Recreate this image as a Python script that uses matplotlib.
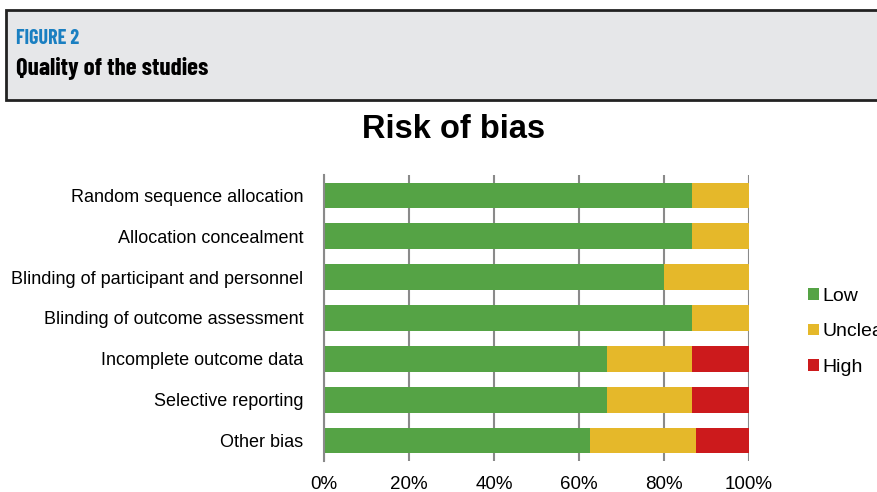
import matplotlib
matplotlib.use("Agg")
import matplotlib.pyplot as plt
from matplotlib.patches import Rectangle, Patch
from matplotlib.ticker import FuncFormatter

domains = ["Random sequence allocation", "Allocation concealment",
           "Blinding of participant and personnel", "Blinding of outcome assessment",
           "Incomplete outcome data", "Selective reporting", "Other bias"]
low = [86.7, 86.7, 80.0, 86.7, 66.7, 66.7, 62.5]
unclear = [13.3, 13.3, 20.0, 13.3, 20.0, 20.0, 25.0]
high = [0.0, 0.0, 0.0, 0.0, 13.3, 13.3, 12.5]
levels = ["Low", "Unclear", "High"]
colors = ["#55a345", "#e5b82a", "#cc1a1c"]

W, H = 878, 492
fig = plt.figure(figsize=(W / 100, H / 100), dpi=100)

# bandeau d'en-tete
fig.patches.append(Rectangle((6 / W, 1 - 100 / H), 1.0, 90 / H,
                             transform=fig.transFigure, facecolor="#e6e7e9",
                             edgecolor="#222222", linewidth=2))
cond = ["Barlow Condensed", "Liberation Sans"]
fig.text(16 / W, 1 - 38 / H, "FIGURE 2", color="#1a7fc1", fontsize=14.5,
         fontweight="bold", family=cond, va="center")
fig.text(16 / W, 1 - 69 / H, "Quality of the studies", color="black", fontsize=18,
         fontweight="bold", family=cond, va="center")

ax = fig.add_axes([324 / W, 1 - 461 / H, 425 / W, 286 / H])
y = list(range(len(domains)))
left = [0] * len(domains)
for vals, name, col in zip([low, unclear, high], levels, colors):
    ax.barh(y, vals, left=left, height=0.63, color=col, label=name, zorder=2)
    left = [a + b for a, b in zip(left, vals)]

ax.set_xlim(0, 100)
ax.set_ylim(len(domains) - 0.5, -0.5)
ax.set_yticks(y)
ax.set_yticklabels(domains, fontsize=13, family="Liberation Sans")
ax.set_xticks([0, 20, 40, 60, 80, 100])
ax.xaxis.set_major_formatter(FuncFormatter(lambda v, p: f"{v:.0f}%"))
ax.tick_params(axis="x", length=0, pad=11, labelsize=13.5)
ax.tick_params(axis="y", length=0, pad=15)
for t in ax.get_xticklabels():
    t.set_family("Liberation Sans")
ax.grid(axis="x", color="#8a8a8a", linewidth=1.5, zorder=0)
for s in ["top", "right", "bottom"]:
    ax.spines[s].set_visible(False)
ax.spines["left"].set_color("#8a8a8a")
ax.spines["left"].set_linewidth(1.5)

fig.text(454 / W, 1 - 130 / H, "Risk of bias", fontsize=23.5, fontweight="bold",
         family="Liberation Sans", ha="center", va="center")

handles = [Patch(facecolor=c, label=l) for c, l in zip(colors, levels)]
fig.legend(handles=handles, loc="center left", bbox_to_anchor=(791 / W, 1 - 332 / H),
           frameon=False, handlelength=0.55, handleheight=0.55, handletextpad=0.15,
           labelspacing=0.95, prop={"family": "Liberation Sans", "size": 14})

fig.savefig("out.png", dpi=100)
